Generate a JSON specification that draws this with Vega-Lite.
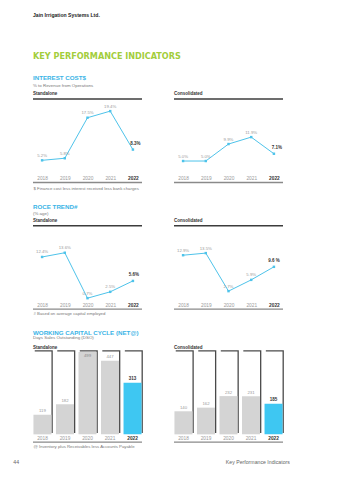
{
"$schema":"https://vega.github.io/schema/vega-lite/v6.json",
"background":"white",
"padding":{"left":13,"top":12,"right":0,"bottom":0},
"config":{"view":{"stroke":null},"font":"Liberation Sans","title":{"anchor":"start","frame":"group","fontWeight":"bold"},"axis":{"labelFont":"Liberation Sans","titleFont":"Liberation Sans","labelAngle":0}},
"datasets":{
"int_sa":[{"year":"2018","value":5.2,"label":"5.2%"},{"year":"2019","value":5.8,"label":"5.8%"},{"year":"2020","value":17.5,"label":"17.5%"},{"year":"2021","value":19.4,"label":"19.4%"},{"year":"2022","value":8.3,"label":"8.3%"}],
"int_co":[{"year":"2018","value":5.0,"label":"5.0%"},{"year":"2019","value":5.0,"label":"5.0%"},{"year":"2020","value":9.9,"label":"9.9%"},{"year":"2021","value":11.9,"label":"11.9%"},{"year":"2022","value":7.1,"label":"7.1%"}],
"roce_sa":[{"year":"2018","value":12.4,"label":"12.4%"},{"year":"2019","value":13.6,"label":"13.6%"},{"year":"2020","value":0.7,"label":"0.7%"},{"year":"2021","value":2.5,"label":"2.5%"},{"year":"2022","value":5.6,"label":"5.6%"}],
"roce_co":[{"year":"2018","value":12.9,"label":"12.9%"},{"year":"2019","value":13.5,"label":"13.5%"},{"year":"2020","value":2.7,"label":"2.7%"},{"year":"2021","value":5.9,"label":"5.9%"},{"year":"2022","value":9.6,"label":"9.6 %"}],
"wc_sa":[{"year":"2018","value":119},{"year":"2019","value":182},{"year":"2020","value":499},{"year":"2021","value":447},{"year":"2022","value":313}],
"wc_co":[{"year":"2018","value":140},{"year":"2019","value":162},{"year":"2020","value":232},{"year":"2021","value":231},{"year":"2022","value":185}]
},
"title":{"text":"44","orient":"bottom","anchor":"start","frame":"bounds","fontSize":5.2,"fontWeight":"normal","color":"#666","offset":0,"dx":-19,"dy":-5.2},
"vconcat":[{
"title":{"text":"Key Performance Indicators","orient":"bottom","anchor":"end","frame":"bounds","fontSize":5.2,"fontWeight":"normal","color":"#666","offset":11.5,"dx":6},
"vconcat":[{
"title":{"text":"Jain Irrigation Systems Ltd.","fontSize":5.1,"fontWeight":"bold","color":"#222","offset":33.7},
"vconcat":[{
"title":{"text":"KEY PERFORMANCE INDICATORS","font":"Liberation Sans Narrow, DejaVu Sans Condensed, sans-serif","fontSize":9,"fontWeight":"bold","color":"#a3cd3b","offset":14},
"spacing":12.8,
"vconcat":[
{
"title":{"text":"INTEREST COST$","subtitle":"% to Revenue from Operations","fontSize":6.2,"color":"#3ab4e6","subtitleFontSize":4.4,"subtitleColor":"#777","subtitlePadding":3.3,"offset":3.9},
"bounds":"flush","spacing":32,
"hconcat":[
{"width":109,"height":83.5,"title":{"text":"Standalone","fontSize":4.5,"color":"#333","offset":2.4},"data":{"name":"int_sa"},
"layer":[
{"data":{"values":[{}]},"mark":{"type":"rule","color":"#3c3c3c","strokeWidth":1.4},"encoding":{"y":{"datum":22.9,"type":"quantitative","scale":{"domain":[-1.2,22.9],"nice":false,"zero":false},"axis":null}}},
{"data":{"values":[{}]},"mark":{"type":"rule","color":"#8a8a8a","strokeWidth":1.4},"encoding":{"y":{"datum":-1.2,"type":"quantitative","scale":{"domain":[-1.2,22.9],"nice":false,"zero":false},"axis":null}}},
{"encoding":{"x":{"field":"year","type":"ordinal","scale":{"type":"point","padding":0.4},"axis":{"orient":"bottom","labelAngle":0,"domain":false,"ticks":false,"grid":false,"labelOverlap":false,"labelPadding":-4.5,"labelBaseline":"middle","labelFontSize":4.8,"labelColor":{"condition":{"test":"datum.value == '2022'","value":"#333"},"value":"#9a9a9a"},"labelFontWeight":{"condition":{"test":"datum.value == '2022'","value":"bold"},"value":"normal"},"title":"$ Finance cost less interest received less bank charges","titleX":0,"titleY":5.5,"titleAlign":"left","titleBaseline":"middle","titleFontSize":4.3,"titleFontWeight":"normal","titleColor":"#777"}},
"y":{"field":"value","type":"quantitative","scale":{"domain":[-1.2,22.9],"nice":false,"zero":false},"axis":null}},
"layer":[
{"mark":{"type":"line","color":"#4ec3ea","strokeWidth":1}},
{"mark":{"type":"point","shape":"square","size":6,"filled":true,"color":"#4ec3ea","opacity":1}},
{"transform":[{"filter":"datum.year != '2022'"}],"mark":{"type":"text","baseline":"bottom","dy":-2.5,"fontSize":4.3,"color":"#9a9a9a"},"encoding":{"text":{"field":"label"}}},
{"transform":[{"filter":"datum.year == '2022'"}],"mark":{"type":"text","baseline":"bottom","dx":2.5,"dy":-4,"fontSize":4.5,"fontWeight":"bold","color":"#333"},"encoding":{"text":{"field":"label"}}}
]}
]},
{"width":109,"height":83.5,"title":{"text":"Consolidated","fontSize":4.5,"color":"#333","offset":2.4},"data":{"name":"int_co"},
"layer":[
{"data":{"values":[{}]},"mark":{"type":"rule","color":"#3c3c3c","strokeWidth":1.4},"encoding":{"y":{"datum":22.9,"type":"quantitative","scale":{"domain":[-1.2,22.9],"nice":false,"zero":false},"axis":null}}},
{"data":{"values":[{}]},"mark":{"type":"rule","color":"#8a8a8a","strokeWidth":1.4},"encoding":{"y":{"datum":-1.2,"type":"quantitative","scale":{"domain":[-1.2,22.9],"nice":false,"zero":false},"axis":null}}},
{"encoding":{"x":{"field":"year","type":"ordinal","scale":{"type":"point","padding":0.4},"axis":{"orient":"bottom","labelAngle":0,"domain":false,"ticks":false,"grid":false,"labelOverlap":false,"labelPadding":-4.5,"labelBaseline":"middle","labelFontSize":4.8,"labelColor":{"condition":{"test":"datum.value == '2022'","value":"#333"},"value":"#9a9a9a"},"labelFontWeight":{"condition":{"test":"datum.value == '2022'","value":"bold"},"value":"normal"},"title":null}},
"y":{"field":"value","type":"quantitative","scale":{"domain":[-1.2,22.9],"nice":false,"zero":false},"axis":null}},
"layer":[
{"mark":{"type":"line","color":"#4ec3ea","strokeWidth":1}},
{"mark":{"type":"point","shape":"square","size":6,"filled":true,"color":"#4ec3ea","opacity":1}},
{"transform":[{"filter":"datum.year != '2022'"}],"mark":{"type":"text","baseline":"bottom","dy":-2.5,"fontSize":4.3,"color":"#9a9a9a"},"encoding":{"text":{"field":"label"}}},
{"transform":[{"filter":"datum.year == '2022'"}],"mark":{"type":"text","baseline":"bottom","dx":3,"dy":-4,"fontSize":4.5,"fontWeight":"bold","color":"#333"},"encoding":{"text":{"field":"label"}}}
]}
]}
]},
{
"title":{"text":"ROCE TREND#","subtitle":"(% age)","fontSize":6.2,"color":"#3ab4e6","subtitleFontSize":4.4,"subtitleColor":"#777","subtitlePadding":1.9,"offset":2.3},
"bounds":"flush","spacing":32,
"hconcat":[
{"width":109,"height":83.3,"title":{"text":"Standalone","fontSize":4.5,"color":"#333","offset":2.7},"data":{"name":"roce_sa"},
"layer":[
{"data":{"values":[{}]},"mark":{"type":"rule","color":"#3c3c3c","strokeWidth":1.4},"encoding":{"y":{"datum":21.25,"type":"quantitative","scale":{"domain":[-2.4,21.25],"nice":false,"zero":false},"axis":null}}},
{"data":{"values":[{}]},"mark":{"type":"rule","color":"#8a8a8a","strokeWidth":1.4},"encoding":{"y":{"datum":-2.4,"type":"quantitative","scale":{"domain":[-2.4,21.25],"nice":false,"zero":false},"axis":null}}},
{"encoding":{"x":{"field":"year","type":"ordinal","scale":{"type":"point","padding":0.4},"axis":{"orient":"bottom","labelAngle":0,"domain":false,"ticks":false,"grid":false,"labelOverlap":false,"labelPadding":-4,"labelBaseline":"middle","labelFontSize":4.8,"labelColor":{"condition":{"test":"datum.value == '2022'","value":"#333"},"value":"#9a9a9a"},"labelFontWeight":{"condition":{"test":"datum.value == '2022'","value":"bold"},"value":"normal"},"title":"# Based on average capital employed","titleX":0,"titleY":4.5,"titleAlign":"left","titleBaseline":"middle","titleFontSize":4.3,"titleFontWeight":"normal","titleColor":"#777"}},
"y":{"field":"value","type":"quantitative","scale":{"domain":[-2.4,21.25],"nice":false,"zero":false},"axis":null}},
"layer":[
{"mark":{"type":"line","color":"#4ec3ea","strokeWidth":1}},
{"mark":{"type":"point","shape":"square","size":6,"filled":true,"color":"#4ec3ea","opacity":1}},
{"transform":[{"filter":"datum.year != '2022'"}],"mark":{"type":"text","baseline":"bottom","dy":-2.5,"fontSize":4.3,"color":"#9a9a9a"},"encoding":{"text":{"field":"label"}}},
{"transform":[{"filter":"datum.year == '2022'"}],"mark":{"type":"text","baseline":"bottom","dx":1,"dy":-3.5,"fontSize":4.5,"fontWeight":"bold","color":"#333"},"encoding":{"text":{"field":"label"}}}
]}
]},
{"width":109,"height":83.3,"title":{"text":"Consolidated","fontSize":4.5,"color":"#333","offset":2.7},"data":{"name":"roce_co"},
"layer":[
{"data":{"values":[{}]},"mark":{"type":"rule","color":"#3c3c3c","strokeWidth":1.4},"encoding":{"y":{"datum":21.25,"type":"quantitative","scale":{"domain":[-2.4,21.25],"nice":false,"zero":false},"axis":null}}},
{"data":{"values":[{}]},"mark":{"type":"rule","color":"#8a8a8a","strokeWidth":1.4},"encoding":{"y":{"datum":-2.4,"type":"quantitative","scale":{"domain":[-2.4,21.25],"nice":false,"zero":false},"axis":null}}},
{"encoding":{"x":{"field":"year","type":"ordinal","scale":{"type":"point","padding":0.4},"axis":{"orient":"bottom","labelAngle":0,"domain":false,"ticks":false,"grid":false,"labelOverlap":false,"labelPadding":-4,"labelBaseline":"middle","labelFontSize":4.8,"labelColor":{"condition":{"test":"datum.value == '2022'","value":"#333"},"value":"#9a9a9a"},"labelFontWeight":{"condition":{"test":"datum.value == '2022'","value":"bold"},"value":"normal"},"title":null}},
"y":{"field":"value","type":"quantitative","scale":{"domain":[-2.4,21.25],"nice":false,"zero":false},"axis":null}},
"layer":[
{"mark":{"type":"line","color":"#4ec3ea","strokeWidth":1}},
{"mark":{"type":"point","shape":"square","size":6,"filled":true,"color":"#4ec3ea","opacity":1}},
{"transform":[{"filter":"datum.year != '2022'"}],"mark":{"type":"text","baseline":"bottom","dy":-2.5,"fontSize":4.3,"color":"#9a9a9a"},"encoding":{"text":{"field":"label"}}},
{"transform":[{"filter":"datum.year == '2022'"}],"mark":{"type":"text","baseline":"bottom","dx":0,"dy":-3.5,"fontSize":4.5,"fontWeight":"bold","color":"#333"},"encoding":{"text":{"field":"label"}}}
]}
]}
]},
{
"title":{"text":"WORKING CAPITAL CYCLE (NET@)","subtitle":"Days Sales Outstanding (DSO)","fontSize":6.2,"color":"#3ab4e6","subtitleFontSize":4.4,"subtitleColor":"#777","subtitlePadding":0.3,"offset":5.4},
"bounds":"flush","spacing":32,
"hconcat":[
{"width":109,"height":90.5,"title":{"text":"Standalone","fontSize":4.5,"color":"#333","offset":0.8},"data":{"name":"wc_sa"},
"layer":[
{"data":{"values":[{}]},"mark":{"type":"rule","color":"#8a8a8a","strokeWidth":1.4},"encoding":{"y":{"datum":-47,"type":"quantitative","scale":{"domain":[-47,502],"nice":false,"zero":false},"axis":null}}},
{"encoding":{"x":{"field":"year","type":"ordinal","scale":{"type":"band","paddingInner":0.2,"paddingOuter":0.02},"axis":{"orient":"bottom","labelAngle":0,"domain":false,"ticks":false,"grid":false,"labelOverlap":false,"labelPadding":-3.2,"labelBaseline":"middle","labelFontSize":4.8,"labelColor":{"condition":{"test":"datum.value == '2022'","value":"#333"},"value":"#9a9a9a"},"labelFontWeight":{"condition":{"test":"datum.value == '2022'","value":"bold"},"value":"normal"},"title":"@ Inventory plus Receivables less Accounts Payable","titleX":0,"titleY":4,"titleAlign":"left","titleBaseline":"middle","titleFontSize":4.3,"titleFontWeight":"normal","titleColor":"#777"}}},
"layer":[
{"mark":{"type":"bar","color":"#4a4a4a","xOffset":1.3,"yOffset":-1.3,"y2Offset":-1.3},"encoding":{"y":{"datum":502,"type":"quantitative","scale":{"domain":[-47,502],"nice":false,"zero":false},"axis":null},"y2":{"datum":0}}},
{"mark":{"type":"bar","color":"white"},"encoding":{"y":{"datum":502,"type":"quantitative","scale":{"domain":[-47,502],"nice":false,"zero":false},"axis":null},"y2":{"datum":0}}},
{"mark":{"type":"bar"},"encoding":{"y":{"field":"value","type":"quantitative","scale":{"domain":[-47,502],"nice":false,"zero":false},"axis":null},"color":{"condition":{"test":"datum.year == '2022'","value":"#3ec7f2"},"value":"#d4d4d4"}}},
{"transform":[{"filter":"datum.year != '2022' && datum.value <= 480"}],"mark":{"type":"text","baseline":"bottom","dy":-1.5,"fontSize":4.3,"color":"#9a9a9a"},"encoding":{"y":{"field":"value","type":"quantitative","scale":{"domain":[-47,502],"nice":false,"zero":false},"axis":null},"text":{"field":"value"}}},
{"transform":[{"filter":"datum.year != '2022' && datum.value > 480"}],"mark":{"type":"text","baseline":"top","dy":1.8,"fontSize":4.3,"color":"#8a8a8a"},"encoding":{"y":{"field":"value","type":"quantitative","scale":{"domain":[-47,502],"nice":false,"zero":false},"axis":null},"text":{"field":"value"}}},
{"transform":[{"filter":"datum.year == '2022'"}],"mark":{"type":"text","baseline":"bottom","dy":-2,"fontSize":4.5,"fontWeight":"bold","color":"#333"},"encoding":{"y":{"field":"value","type":"quantitative","scale":{"domain":[-47,502],"nice":false,"zero":false},"axis":null},"text":{"field":"value"}}}
]}
]},
{"width":109,"height":90.5,"title":{"text":"Consolidated","fontSize":4.5,"color":"#333","offset":0.8},"data":{"name":"wc_co"},
"layer":[
{"data":{"values":[{}]},"mark":{"type":"rule","color":"#8a8a8a","strokeWidth":1.4},"encoding":{"y":{"datum":-47,"type":"quantitative","scale":{"domain":[-47,502],"nice":false,"zero":false},"axis":null}}},
{"encoding":{"x":{"field":"year","type":"ordinal","scale":{"type":"band","paddingInner":0.2,"paddingOuter":0.02},"axis":{"orient":"bottom","labelAngle":0,"domain":false,"ticks":false,"grid":false,"labelOverlap":false,"labelPadding":-3.2,"labelBaseline":"middle","labelFontSize":4.8,"labelColor":{"condition":{"test":"datum.value == '2022'","value":"#333"},"value":"#9a9a9a"},"labelFontWeight":{"condition":{"test":"datum.value == '2022'","value":"bold"},"value":"normal"},"title":null}}},
"layer":[
{"mark":{"type":"bar","color":"#4a4a4a","xOffset":1.3,"yOffset":-1.3,"y2Offset":-1.3},"encoding":{"y":{"datum":502,"type":"quantitative","scale":{"domain":[-47,502],"nice":false,"zero":false},"axis":null},"y2":{"datum":0}}},
{"mark":{"type":"bar","color":"white"},"encoding":{"y":{"datum":502,"type":"quantitative","scale":{"domain":[-47,502],"nice":false,"zero":false},"axis":null},"y2":{"datum":0}}},
{"mark":{"type":"bar"},"encoding":{"y":{"field":"value","type":"quantitative","scale":{"domain":[-47,502],"nice":false,"zero":false},"axis":null},"color":{"condition":{"test":"datum.year == '2022'","value":"#3ec7f2"},"value":"#d4d4d4"}}},
{"transform":[{"filter":"datum.year != '2022'"}],"mark":{"type":"text","baseline":"bottom","dy":-1.5,"fontSize":4.3,"color":"#9a9a9a"},"encoding":{"y":{"field":"value","type":"quantitative","scale":{"domain":[-47,502],"nice":false,"zero":false},"axis":null},"text":{"field":"value"}}},
{"transform":[{"filter":"datum.year == '2022'"}],"mark":{"type":"text","baseline":"bottom","dy":-2,"fontSize":4.5,"fontWeight":"bold","color":"#333"},"encoding":{"y":{"field":"value","type":"quantitative","scale":{"domain":[-47,502],"nice":false,"zero":false},"axis":null},"text":{"field":"value"}}}
]}
]}
]}
]}]}]}]
}
